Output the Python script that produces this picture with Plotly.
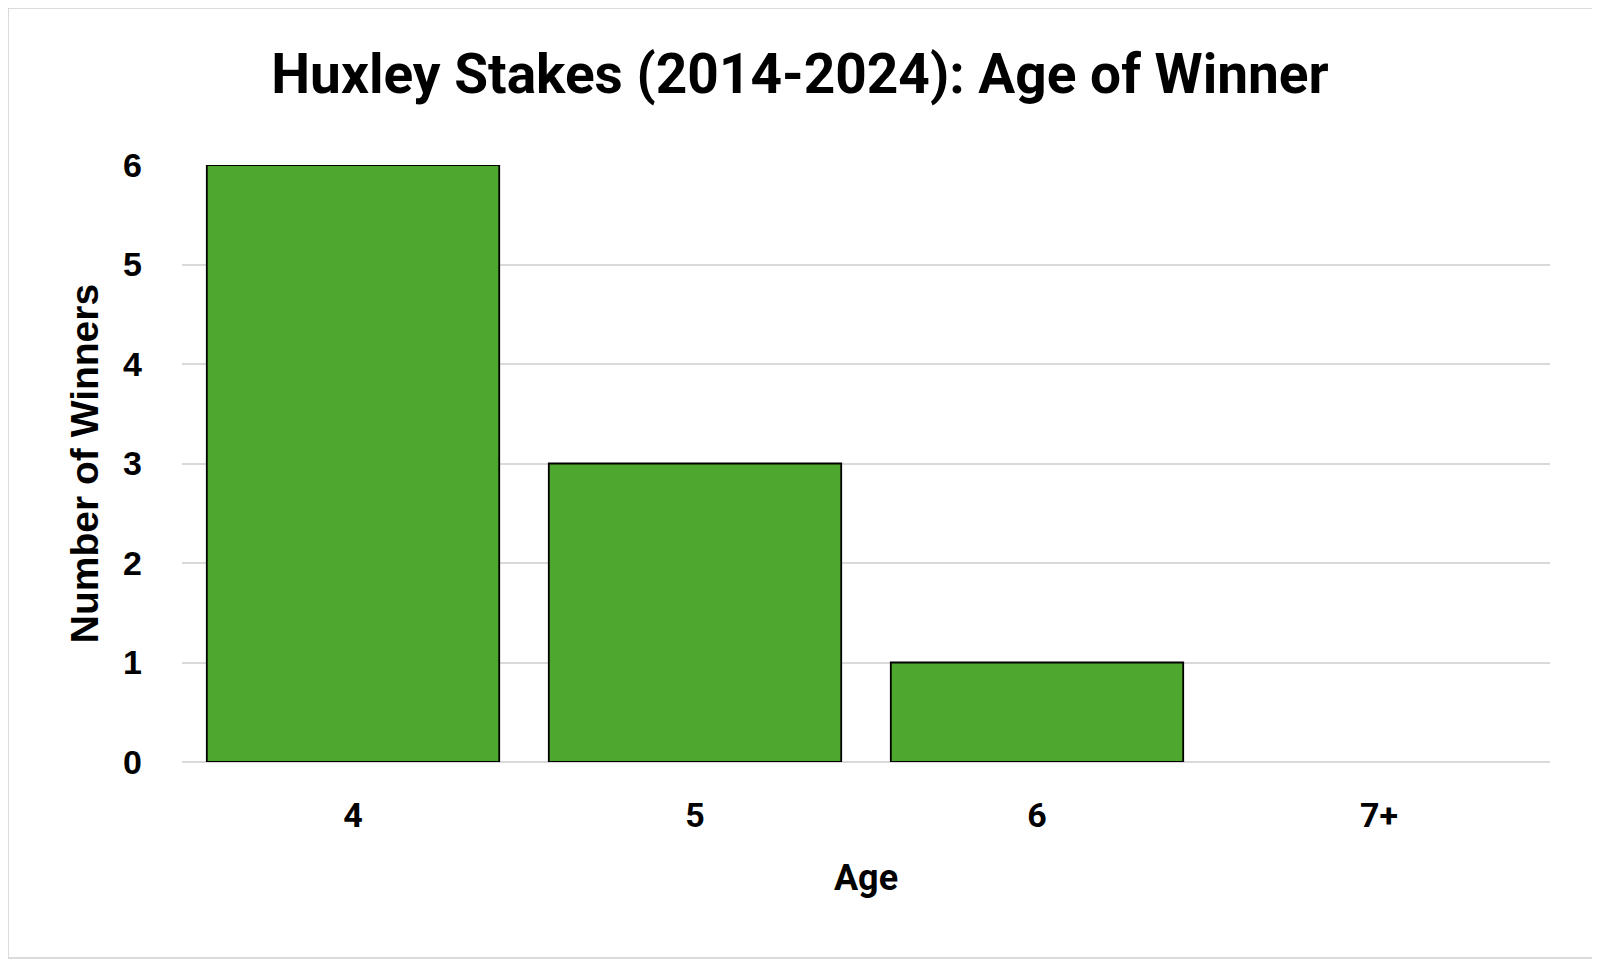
import plotly.graph_objects as go

# Daten
ages = ["4", "5", "6", "7+"]
winners = [6, 3, 1, 0]
y_ticks = [0, 1, 2, 3, 4, 5, 6]

TITLE = "Huxley Stakes (2014-2024): Age of Winner"
X_TITLE = "Age"
Y_TITLE = "Number of Winners"

NARROW = "Roboto, Liberation Sans Narrow, Arial Narrow, sans-serif"
ARIAL = "Liberation Sans, Arial, sans-serif"

fig = go.Figure()

# Balken mit Wert 0 ohne Rahmen (wie im Original)
bar_line = [1.8 if v > 0 else 0 for v in winners]

fig.add_trace(go.Bar(
    x=ages,
    y=winners,
    marker=dict(color="#4EA72E", line=dict(color="black", width=bar_line)),
    hoverinfo="x+y",
))

# Browser setzt 8px Body-Rand -> Figur um 8px kleiner
OFF = 8
L, R, T, B = 182 - OFF, 50, 165 - OFF, 199
W, H = 1600 - OFF, 961 - OFF
pw, ph = W - L - R, H - T - B

fig.update_layout(
    width=W,
    height=H,
    margin=dict(l=L, r=R, t=T, b=B),
    paper_bgcolor="white",
    plot_bgcolor="white",
    bargap=0.145,
    showlegend=False,
    title=dict(
        text=TITLE,
        x=(800 - OFF) / W,
        xref="container",
        xanchor="center",
        y=1 - (74 - OFF) / H,
        yanchor="middle",
        font=dict(family=NARROW, size=55, color="black", weight="bold"),
    ),
    xaxis=dict(
        title=dict(text=X_TITLE, font=dict(family=NARROW, size=36, color="black", weight="bold"), standoff=30),
        tickfont=dict(family=NARROW, size=34, color="black", weight="bold"),
        showgrid=False,
        showline=False,
        zeroline=False,
        ticks="",
        ticklabelstandoff=30,
    ),
    yaxis=dict(
        title=dict(text=Y_TITLE, font=dict(family=ARIAL, size=39, color="black", weight="bold"), standoff=12),
        tickfont=dict(family=ARIAL, size=34, color="black", weight="bold"),
        range=[0, 6],
        tickvals=y_ticks,
        showgrid=True,
        gridcolor="#D9D9D9",
        gridwidth=1.6,
        zeroline=True,
        zerolinecolor="#D9D9D9",
        zerolinewidth=1.6,
        showline=False,
        ticks="",
        ticklabelstandoff=39,
    ),
    shapes=[dict(
        type="rect",
        xref="paper",
        yref="paper",
        x0=-L / pw,
        x1=1 + (R - 3) / pw,
        y0=-(B - 3) / ph,
        y1=1 + T / ph,
        line=dict(color="#D0D0D0", width=1.5),
        fillcolor="rgba(0,0,0,0)",
        layer="below",
    )],
)

fig.write_html("out.html")
